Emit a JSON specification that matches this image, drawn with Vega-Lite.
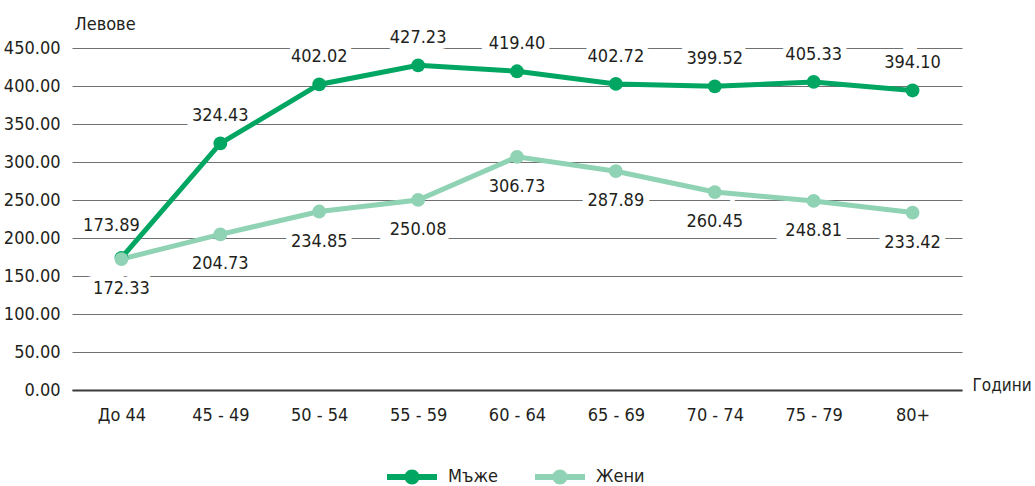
{
  "$schema": "https://vega.github.io/schema/vega-lite/v6.json",
  "autosize": {"type": "none"},
  "padding": {"left": 72, "top": 48, "right": 73, "bottom": 96},
  "width": 890,
  "height": 342,
  "background": "white",
  "config": {
    "view": {"stroke": null},
    "font": "DejaVu Sans Condensed, serif",
    "text": {"font": "DejaVu Sans Condensed, serif", "fontSize": 18, "fill": "#231f20"}
  },
  "data": {
    "values": [
      {"age": "До 44", "sex": "Мъже", "value": 173.89},
      {"age": "45 - 49", "sex": "Мъже", "value": 324.43},
      {"age": "50 - 54", "sex": "Мъже", "value": 402.02},
      {"age": "55 - 59", "sex": "Мъже", "value": 427.23},
      {"age": "60 - 64", "sex": "Мъже", "value": 419.40},
      {"age": "65 - 69", "sex": "Мъже", "value": 402.72},
      {"age": "70 - 74", "sex": "Мъже", "value": 399.52},
      {"age": "75 - 79", "sex": "Мъже", "value": 405.33},
      {"age": "80+", "sex": "Мъже", "value": 394.10},
      {"age": "До 44", "sex": "Жени", "value": 172.33},
      {"age": "45 - 49", "sex": "Жени", "value": 204.73},
      {"age": "50 - 54", "sex": "Жени", "value": 234.85},
      {"age": "55 - 59", "sex": "Жени", "value": 250.08},
      {"age": "60 - 64", "sex": "Жени", "value": 306.73},
      {"age": "65 - 69", "sex": "Жени", "value": 287.89},
      {"age": "70 - 74", "sex": "Жени", "value": 260.45},
      {"age": "75 - 79", "sex": "Жени", "value": 248.81},
      {"age": "80+", "sex": "Жени", "value": 233.42}
    ]
  },
  "encoding": {
    "x": {
      "field": "age", "type": "ordinal",
      "sort": ["До 44", "45 - 49", "50 - 54", "55 - 59", "60 - 64", "65 - 69", "70 - 74", "75 - 79", "80+"],
      "axis": {
        "title": "Години", "titleX": 900, "titleY": 0, "titleAlign": "left", "titleBaseline": "alphabetic",
        "titleFont": "DejaVu Sans Condensed, serif", "titleFontSize": 17, "titleFontWeight": "normal", "titleColor": "#231f20",
        "labelAngle": 0, "labelFont": "DejaVu Sans Condensed, serif", "labelFontSize": 18, "labelColor": "#231f20",
        "labelPadding": 16, "ticks": false, "tickSize": 0,
        "domain": true, "domainColor": "#3a3a3a", "domainWidth": 2, "grid": false
      }
    },
    "y": {
      "field": "value", "type": "quantitative",
      "scale": {"domain": [0, 450], "nice": false, "zero": true},
      "axis": {
        "title": "Левове", "titleAngle": 0, "titleX": 2, "titleY": -19, "titleAlign": "left", "titleBaseline": "alphabetic",
        "titleFont": "DejaVu Sans Condensed, serif", "titleFontSize": 18, "titleFontWeight": "normal", "titleColor": "#231f20",
        "values": [0, 50, 100, 150, 200, 250, 300, 350, 400, 450],
        "format": ".2f", "labelFont": "DejaVu Sans Condensed, serif", "labelFontSize": 18, "labelColor": "#231f20",
        "labelPadding": 12, "ticks": false, "tickSize": 0, "domain": false,
        "grid": true, "gridColor": "#707070", "gridWidth": 1
      }
    }
  },
  "layer": [
    {
      "transform": [{"filter": "datum.sex === 'Мъже' && datum.age !== 'До 44'"}],
      "mark": {"type": "text", "dy": -27, "stroke": "white", "strokeWidth": 12, "fill": "white", "align": "center", "baseline": "middle"},
      "encoding": {"text": {"field": "value", "type": "quantitative", "format": ".2f"}}
    },
    {
      "transform": [{"filter": "datum.sex === 'Мъже' && datum.age === 'До 44'"}],
      "mark": {"type": "text", "dy": -32, "dx": -10, "stroke": "white", "strokeWidth": 12, "fill": "white", "align": "center", "baseline": "middle"},
      "encoding": {"text": {"field": "value", "type": "quantitative", "format": ".2f"}}
    },
    {
      "transform": [{"filter": "datum.sex === 'Жени'"}],
      "mark": {"type": "text", "dy": 30, "stroke": "white", "strokeWidth": 12, "fill": "white", "align": "center", "baseline": "middle"},
      "encoding": {"text": {"field": "value", "type": "quantitative", "format": ".2f"}}
    },
    {
      "mark": {"type": "line", "strokeWidth": 5},
      "encoding": {
        "color": {
          "field": "sex", "type": "nominal",
          "scale": {"domain": ["Мъже", "Жени"], "range": ["#00a661", "#8fd3b4"]},
          "legend": {
            "orient": "none", "legendX": 315, "legendY": 404, "direction": "horizontal", "title": null,
            "symbolType": "M-1,-0.12L1,-0.12L1,0.12L-1,0.12Z M0.3,0A0.3,0.3 0 1,1 -0.3,0A0.3,0.3 0 1,1 0.3,0Z",
            "symbolSize": 2500, "symbolStrokeWidth": 0,
            "labelFont": "DejaVu Sans Condensed, serif", "labelFontSize": 18, "labelColor": "#231f20",
            "labelOffset": 11, "columnPadding": 37,
            "encode": {"symbols": {"update": {"fill": {"scale": "color", "field": "value"}, "opacity": {"value": 1}, "strokeWidth": {"value": 0}}}}
          }
        }
      }
    },
    {
      "mark": {"type": "point", "filled": true, "size": 190, "opacity": 1},
      "encoding": {
        "color": {
          "field": "sex", "type": "nominal",
          "scale": {"domain": ["Мъже", "Жени"], "range": ["#00a661", "#8fd3b4"]},
          "legend": {
            "orient": "none", "legendX": 315, "legendY": 404, "direction": "horizontal", "title": null,
            "symbolType": "M-1,-0.12L1,-0.12L1,0.12L-1,0.12Z M0.3,0A0.3,0.3 0 1,1 -0.3,0A0.3,0.3 0 1,1 0.3,0Z",
            "symbolSize": 2500, "symbolStrokeWidth": 0,
            "labelFont": "DejaVu Sans Condensed, serif", "labelFontSize": 18, "labelColor": "#231f20",
            "labelOffset": 11, "columnPadding": 37,
            "encode": {"symbols": {"update": {"fill": {"scale": "color", "field": "value"}, "opacity": {"value": 1}, "strokeWidth": {"value": 0}}}}
          }
        }
      }
    },
    {
      "transform": [{"filter": "datum.sex === 'Мъже' && datum.age !== 'До 44'"}],
      "mark": {"type": "text", "dy": -27, "align": "center", "baseline": "middle"},
      "encoding": {"text": {"field": "value", "type": "quantitative", "format": ".2f"}}
    },
    {
      "transform": [{"filter": "datum.sex === 'Мъже' && datum.age === 'До 44'"}],
      "mark": {"type": "text", "dy": -32, "dx": -10, "align": "center", "baseline": "middle"},
      "encoding": {"text": {"field": "value", "type": "quantitative", "format": ".2f"}}
    },
    {
      "transform": [{"filter": "datum.sex === 'Жени'"}],
      "mark": {"type": "text", "dy": 30, "align": "center", "baseline": "middle"},
      "encoding": {"text": {"field": "value", "type": "quantitative", "format": ".2f"}}
    }
  ]
}
